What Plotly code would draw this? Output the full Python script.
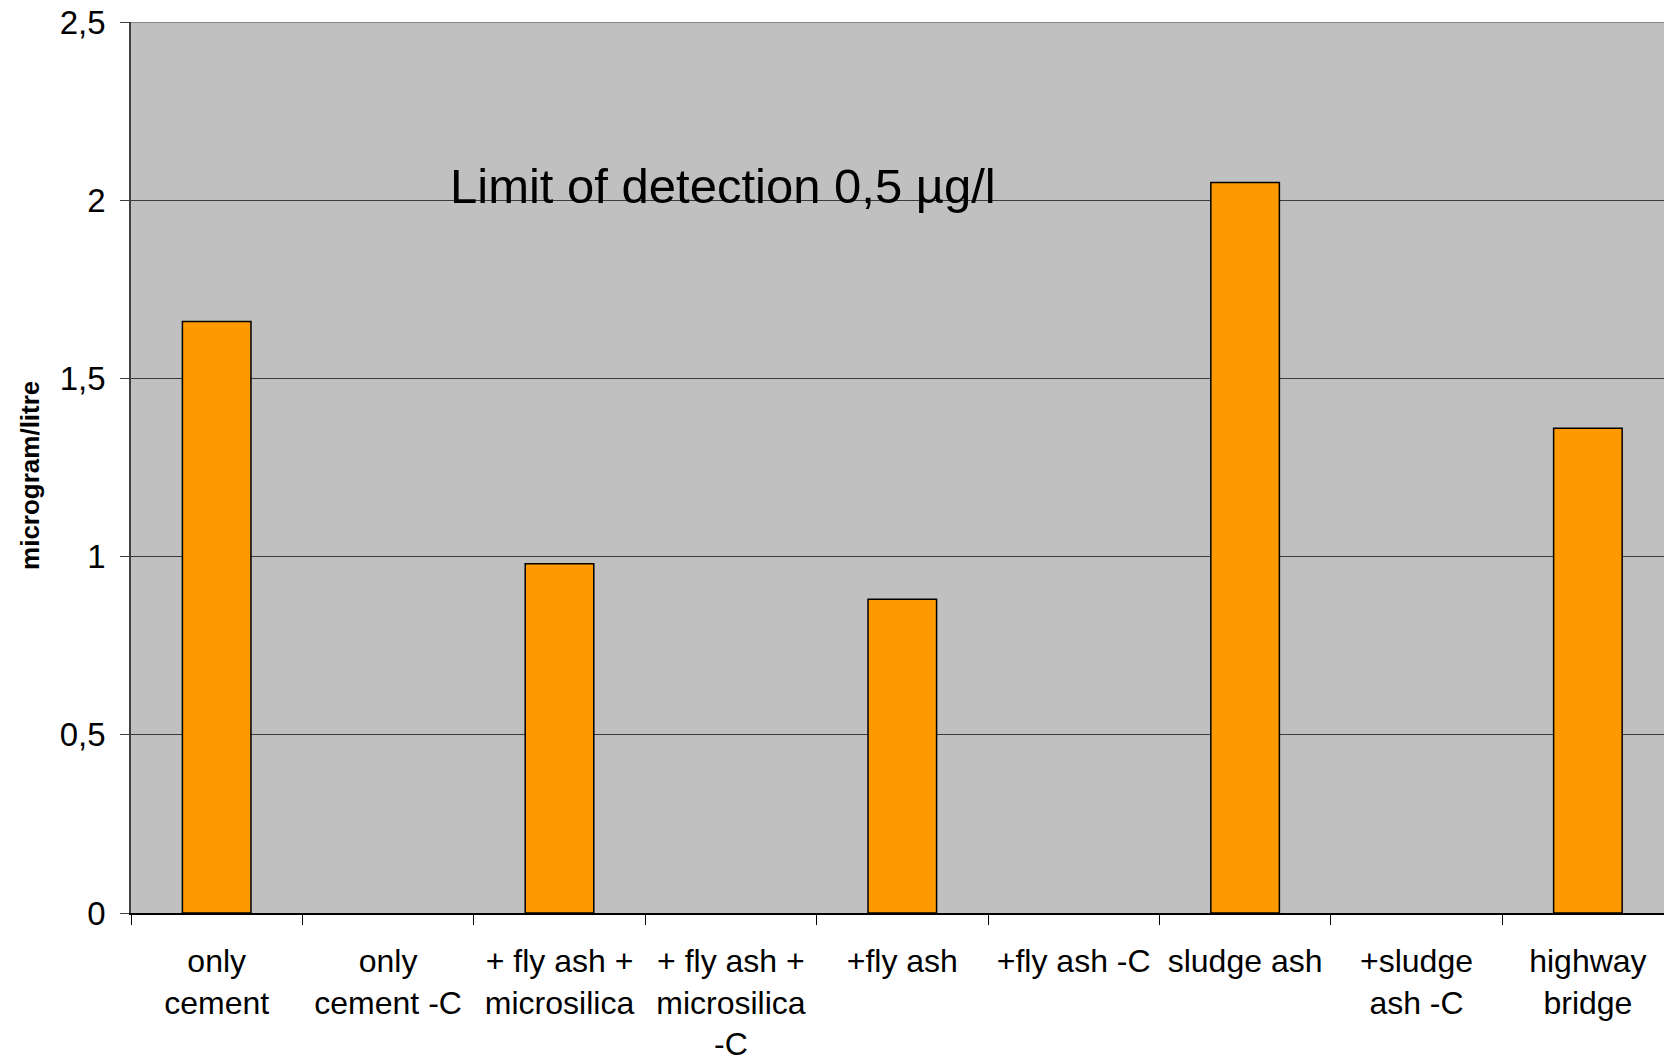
import plotly.graph_objects as go

categories = ["only<br>cement", "only<br>cement -C", "+ fly ash +<br>microsilica",
              "+ fly ash +<br>microsilica<br>-C", "+fly ash", "+fly ash -C",
              "sludge ash", "+sludge<br>ash -C", "highway<br>bridge"]
values = [1.66, None, 0.98, None, 0.88, None, 2.05, None, 1.36]
y_tickvals = [0, 0.5, 1, 1.5, 2, 2.5]
y_ticktext = ["0", "0,5", "1", "1,5", "2", "2,5"]
y_title = "microgram/litre"
note_text = "Limit of detection 0,5 µg/l"

fig = go.Figure()
fig.add_trace(go.Bar(
    x=categories, y=values, width=0.4,
    marker=dict(color="#FF9900", line=dict(color="black", width=1.5)),
))

fig.update_layout(
    width=1664, height=1058,
    margin=dict(l=131, r=0, t=22, b=145),
    paper_bgcolor="white", plot_bgcolor="#C0C0C0",
    showlegend=False, bargap=0.6,
    font=dict(family="Liberation Sans, Arial, sans-serif", size=33, color="black"),
)
fig.update_xaxes(
    type="category", range=[-0.5, 8.444], automargin=False,
    showgrid=False, showline=True, linecolor="black", linewidth=1.5,
    ticks="outside", tickson="boundaries", ticklen=10, tickcolor="black", tickwidth=1,
    tickfont=dict(size=32), ticklabelstandoff=19,
)
fig.update_yaxes(
    range=[0, 2.5], tickvals=y_tickvals, ticktext=y_ticktext, automargin=False,
    showgrid=True, gridcolor="#3c3c3c", gridwidth=1,
    showline=True, linecolor="#404040", linewidth=1.5,
    ticks="outside", ticklen=9, tickcolor="#404040",
    tickfont=dict(size=33), zeroline=False, ticklabelstandoff=8,
    ticklabeloverflow="allow",
)
fig.add_shape(type="line", xref="paper", yref="y", x0=0, x1=1, y0=2.5, y1=2.5,
              line=dict(color="#888888", width=2), layer="above")
fig.add_annotation(
    x=-0.0659, y=0.4916, xref="paper", yref="paper", text="<b>" + y_title + "</b>",
    textangle=-90, showarrow=False, xanchor="center", yanchor="middle",
    font=dict(size=26, color="black"),
)
fig.add_annotation(
    x=2.952, y=1.959, xref="x", yref="y", text=note_text, showarrow=False,
    yanchor="bottom", xanchor="center",
    font=dict(family="Liberation Sans, Arial, sans-serif", size=49, color="black"),
)
fig.write_html("out.html", config={"displayModeBar": False},
               post_script="document.body.style.margin='0px';")
